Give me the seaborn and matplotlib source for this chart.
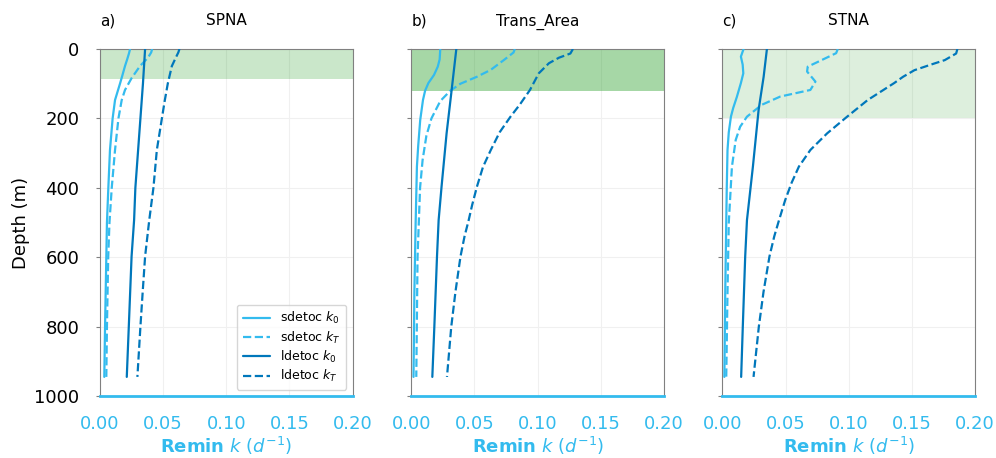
import pandas as pd
import matplotlib.pyplot as plt
import seaborn as sns

# region names and shaded surface layer depth (m)
regions = ['SPNA', 'Trans_Area', 'STNA']
panel_tags = ['a)', 'b)', 'c)']
shade_depth = [87, 120, 200]
shade_alpha = [0.25, 0.42, 0.16]

# SPNA profiles
spna_sd_k0_z = [0, 12, 30, 49, 75, 99, 147, 200, 291, 400, 500, 600, 800, 945]
spna_sd_k0 = [0.0238, 0.0230, 0.0215, 0.0198, 0.0178, 0.0159, 0.0119, 0.0100, 0.0079, 0.0066, 0.0055, 0.0050, 0.0040, 0.0034]
spna_sd_kT_z = [0, 10, 25, 49, 84, 118, 147, 200, 291, 400, 500, 600, 800, 945]
spna_sd_kT = [0.0413, 0.0405, 0.0380, 0.0317, 0.0250, 0.0198, 0.0172, 0.0146, 0.0119, 0.0093, 0.0075, 0.0065, 0.0055, 0.0050]
spna_ld_k0_z = [0, 100, 200, 400, 493, 598, 800, 945]
spna_ld_k0 = [0.0357, 0.0340, 0.0320, 0.0280, 0.0270, 0.0250, 0.0228, 0.0212]
spna_ld_kT_z = [0, 10, 25, 49, 99, 150, 200, 291, 400, 493, 598, 700, 800, 945]
spna_ld_kT = [0.0629, 0.0620, 0.0600, 0.0569, 0.0537, 0.0512, 0.0490, 0.0450, 0.0423, 0.0390, 0.0357, 0.0338, 0.0320, 0.0296]

# Trans_Area profiles
tran_sd_k0_z = [0, 30, 51, 75, 98, 120, 147, 205, 280, 339, 500, 700, 945]
tran_sd_k0 = [0.0230, 0.0225, 0.0210, 0.0180, 0.0136, 0.0110, 0.0093, 0.0071, 0.0055, 0.0045, 0.0035, 0.0025, 0.0018]
tran_sd_kT_z = [0, 10, 30, 60, 80, 100, 120, 150, 200, 250, 320, 400, 600, 945]
tran_sd_kT = [0.0820, 0.0810, 0.0740, 0.0630, 0.0520, 0.0390, 0.0310, 0.0230, 0.0160, 0.0120, 0.0090, 0.0070, 0.0050, 0.0040]
tran_ld_k0_z = [0, 118, 243, 397, 493, 598, 800, 945]
tran_ld_k0 = [0.0357, 0.0320, 0.0280, 0.0240, 0.0217, 0.0204, 0.0183, 0.0167]
tran_ld_kT_z = [0, 13, 25, 41, 70, 118, 160, 195, 240, 291, 340, 397, 450, 493, 540, 598, 700, 800, 945]
tran_ld_kT = [0.1280, 0.1260, 0.1170, 0.1090, 0.1010, 0.0940, 0.0860, 0.0786, 0.0700, 0.0630, 0.0568, 0.0520, 0.0482, 0.0455, 0.0422, 0.0390, 0.0350, 0.0317, 0.0283]

# STNA profiles
stna_sd_k0_z = [0, 22, 45, 70, 98, 138, 170, 195, 240, 291, 400, 500, 700, 945]
stna_sd_k0 = [0.0167, 0.0146, 0.0160, 0.0165, 0.0146, 0.0114, 0.0085, 0.0067, 0.0050, 0.0040, 0.0034, 0.0030, 0.0022, 0.0015]
stna_sd_kT_z = [0, 12, 51, 65, 94, 118, 137, 161, 195, 224, 262, 339, 500, 700, 945]
stna_sd_kT = [0.0913, 0.0900, 0.0675, 0.0670, 0.0736, 0.0696, 0.0458, 0.0310, 0.0194, 0.0140, 0.0105, 0.0075, 0.0050, 0.0040, 0.0030]
stna_ld_k0_z = [0, 80, 176, 339, 493, 598, 800, 945]
stna_ld_k0 = [0.0352, 0.0326, 0.0286, 0.0241, 0.0194, 0.0180, 0.0161, 0.0148]
stna_ld_kT_z = [0, 13, 32, 45, 61, 80, 98, 147, 195, 243, 291, 339, 385, 435, 493, 540, 598, 700, 800, 945]
stna_ld_kT = [0.1860, 0.1850, 0.1760, 0.1650, 0.1520, 0.1430, 0.1360, 0.1150, 0.0987, 0.0829, 0.0696, 0.0605, 0.0548, 0.0497, 0.0448, 0.0410, 0.0372, 0.0325, 0.0288, 0.0246]

profiles = [
    [(spna_sd_k0_z, spna_sd_k0), (spna_sd_kT_z, spna_sd_kT), (spna_ld_k0_z, spna_ld_k0), (spna_ld_kT_z, spna_ld_kT)],
    [(tran_sd_k0_z, tran_sd_k0), (tran_sd_kT_z, tran_sd_kT), (tran_ld_k0_z, tran_ld_k0), (tran_ld_kT_z, tran_ld_kT)],
    [(stna_sd_k0_z, stna_sd_k0), (stna_sd_kT_z, stna_sd_kT), (stna_ld_k0_z, stna_ld_k0), (stna_ld_kT_z, stna_ld_kT)],
]
labels = [r'sdetoc $k_0$', r'sdetoc $k_T$', r'ldetoc $k_0$', r'ldetoc $k_T$']
colors = ['#33bbee', '#33bbee', '#0077bb', '#0077bb']
styles = ['-', '--', '-', '--']

sns.set_style('whitegrid', {'grid.color': '#f0f0f0', 'axes.edgecolor': '#808080',
                            'text.color': 'black', 'axes.labelcolor': 'black',
                            'ytick.color': 'black'})
plt.rcParams['font.family'] = ['DejaVu Sans']

fig, axes = plt.subplots(1, 3, figsize=(9.96, 4.58), dpi=100, sharey=True)
fig.subplots_adjust(left=0.1004, right=0.979, top=0.893, bottom=0.1354, wspace=0.232)

for i, ax in enumerate(axes):
    ax.set_axisbelow(True)
    ax.axhspan(0, shade_depth[i], color='#2ca02c', alpha=shade_alpha[i], lw=0, zorder=1)
    for j, (z, k) in enumerate(profiles[i]):
        df = pd.DataFrame({'k': k, 'depth': z})
        sns.lineplot(data=df, x='k', y='depth', sort=False, estimator=None, ax=ax,
                     color=colors[j], linestyle=styles[j], lw=1.6, label=labels[j], zorder=3)
    ax.set_xlim(0, 0.2)
    ax.set_ylim(1000, 0)
    ax.set_xticks([0, 0.05, 0.1, 0.15, 0.2])
    ax.set_yticks([0, 200, 400, 600, 800, 1000])
    ax.tick_params(axis='x', colors='#33bbee', labelsize=13, length=0, pad=14)
    ax.tick_params(axis='y', labelsize=13, length=3, color='#808080', left=True, pad=12)
    ax.set_xlabel(r'$\bf{Remin}$ $k$ ($d^{-1}$)', color='#33bbee', fontsize=13, labelpad=1)
    ax.set_ylabel('')
    ax.spines['bottom'].set_color('#33bbee')
    ax.spines['bottom'].set_linewidth(2)
    ax.set_title(regions[i], fontsize=11, pad=17, color='black')
    ax.set_title(panel_tags[i], loc='left', fontsize=11, pad=17, color='black')
    if i == 0:
        ax.legend(loc='lower right', fontsize=9, frameon=True, edgecolor='#cccccc',
                  labelspacing=0.25, borderpad=0.45, handlelength=2.2)
    else:
        ax.get_legend().remove()

axes[0].set_ylabel('Depth (m)', fontsize=13, labelpad=3)

plt.savefig('out.png', dpi=100)
